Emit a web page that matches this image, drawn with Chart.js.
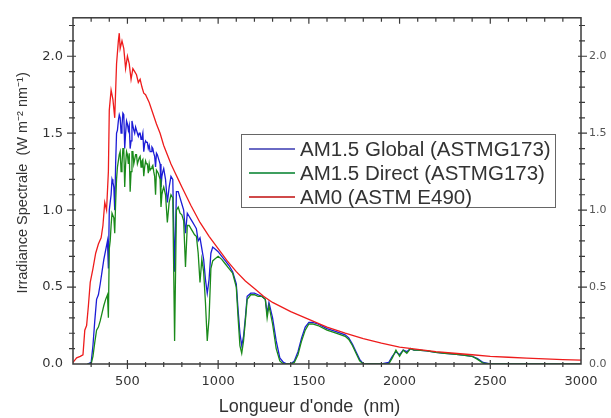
<!DOCTYPE html>
<html>
<head>
<meta charset="utf-8">
<script src="https://cdn.jsdelivr.net/npm/chart.js@4.4.0/dist/chart.umd.min.js"></script>
<style>
  html, body { margin: 0; padding: 0; background: #fff; }
  #wrap { width: 611px; height: 418px; }
</style>
</head>
<body>
<div id="wrap"><canvas id="spectrumChart" width="611" height="418"></canvas></div>
<script>
// Spectre solaire : AM0 et AM1.5 (global / direct)

// wavelengths (nm) for the AM1.5 curves
const wlAM15 = [
    280, 300, 310, 320, 330, 340, 350, 360, 370, 380,
    390, 395, 400, 405, 410, 415, 420, 425, 430, 435,
    440, 445, 450, 455, 460, 465, 470, 475, 480, 485,
    490, 495, 500, 505, 510, 515, 520, 525, 530, 535,
    540, 545, 550, 555, 560, 565, 570, 575, 580, 585,
    590, 595, 600, 605, 610, 615, 620, 625, 630, 635,
    640, 645, 650, 655, 660, 665, 670, 675, 680, 685,
    690, 695, 700, 710, 720, 730, 740, 750, 760, 770,
    780, 790, 800, 810, 820, 830, 840, 850, 860, 870,
    880, 890, 900, 910, 920, 930, 940, 950, 960, 970,
    980, 1000, 1020, 1040, 1060, 1080, 1100, 1110, 1120, 1130,
    1140, 1150, 1160, 1180, 1200, 1220, 1240, 1260, 1270, 1280,
    1300, 1320, 1340, 1360, 1380, 1400, 1420, 1440, 1460, 1480,
    1500, 1520, 1550, 1600, 1650, 1700, 1720, 1740, 1760, 1780,
    1800, 1850, 1900, 1940, 1960, 1980, 2000, 2020, 2040, 2060,
    2080, 2100, 2150, 2200, 2250, 2300, 2350, 2400, 2430, 2460,
    2500, 2600, 2800, 3000
];

// AM1.5 Global (W m-2 nm-1)
const globalAM15 = [
    0, 0.01, 0.12, 0.28, 0.42, 0.45, 0.52, 0.6, 0.68, 0.74,
    0.8, 0.62, 1.0, 1.05, 1.1, 1.2, 1.18, 1.15, 1.0, 1.3,
    1.5, 1.52, 1.58, 1.62, 1.6, 1.5, 1.55, 1.63, 1.62, 1.4,
    1.5, 1.58, 1.56, 1.52, 1.55, 1.4, 1.45, 1.58, 1.55, 1.52,
    1.5, 1.54, 1.52, 1.5, 1.48, 1.5, 1.5, 1.46, 1.47, 1.5,
    1.38, 1.43, 1.45, 1.44, 1.44, 1.4, 1.42, 1.38, 1.38, 1.41,
    1.4, 1.37, 1.35, 1.28, 1.37, 1.36, 1.34, 1.32, 1.3, 1.15,
    1.22, 1.25, 1.27, 1.2, 1.05, 1.15, 1.22, 1.2, 0.6, 1.12,
    1.12, 1.08, 1.04, 1.0, 0.85, 0.98, 0.96, 0.94, 0.92, 0.9,
    0.88, 0.8, 0.82, 0.75, 0.68, 0.55, 0.46, 0.55, 0.72, 0.76,
    0.75, 0.73, 0.7, 0.67, 0.64, 0.6, 0.52, 0.35, 0.2, 0.12,
    0.18, 0.3, 0.44, 0.46, 0.46, 0.45, 0.44, 0.42, 0.33, 0.4,
    0.3, 0.15, 0.04, 0.01, 0, 0, 0.02, 0.08, 0.17, 0.24,
    0.27, 0.27, 0.26, 0.23, 0.21, 0.19, 0.17, 0.13, 0.08, 0.03,
    0, 0, 0, 0.01, 0.05, 0.08, 0.06, 0.09, 0.08, 0.1,
    0.09, 0.09, 0.085, 0.075, 0.07, 0.065, 0.058, 0.05, 0.035, 0.01,
    0, 0, 0, 0
];

// AM1.5 Direct (W m-2 nm-1)
const directAM15 = [
    0, 0, 0.05, 0.14, 0.22, 0.24, 0.28, 0.33, 0.38, 0.42,
    0.45, 0.3, 0.75, 0.8, 0.9, 0.98, 0.98, 0.95, 0.85, 1.05,
    1.2, 1.28, 1.32, 1.36, 1.38, 1.25, 1.3, 1.4, 1.4, 1.15,
    1.3, 1.38, 1.36, 1.3, 1.37, 1.12, 1.25, 1.38, 1.38, 1.3,
    1.33, 1.36, 1.36, 1.3, 1.32, 1.34, 1.35, 1.28, 1.32, 1.33,
    1.22, 1.28, 1.32, 1.3, 1.3, 1.24, 1.3, 1.26, 1.27, 1.28,
    1.29, 1.25, 1.22, 1.1, 1.26, 1.25, 1.24, 1.22, 1.2, 1.02,
    1.1, 1.13, 1.15, 1.1, 0.92, 1.05, 1.1, 1.08, 0.15, 1.0,
    1.02, 0.98, 0.97, 0.93, 0.63, 0.9, 0.9, 0.88, 0.86, 0.84,
    0.83, 0.72, 0.53, 0.68, 0.6, 0.4, 0.15, 0.3, 0.62, 0.67,
    0.68, 0.7, 0.68, 0.65, 0.62, 0.59, 0.5, 0.3, 0.12, 0.07,
    0.15, 0.28, 0.42, 0.45, 0.45, 0.44, 0.44, 0.42, 0.3, 0.38,
    0.26, 0.1, 0.02, 0, 0, 0, 0.01, 0.06, 0.15, 0.22,
    0.26, 0.26, 0.25, 0.22, 0.2, 0.18, 0.16, 0.12, 0.07, 0.02,
    0, 0, 0, 0, 0.04, 0.09, 0.05, 0.09, 0.07, 0.1,
    0.09, 0.09, 0.085, 0.075, 0.07, 0.065, 0.058, 0.05, 0.03, 0.005,
    0, 0, 0, 0
];

// wavelengths (nm) for AM0
const wlAM0 = [
    200, 220, 240, 255, 265, 275, 285, 295, 310, 325,
    340, 355, 365, 375, 385, 395, 400, 410, 420, 430,
    440, 450, 455, 460, 470, 480, 490, 500, 510, 520,
    530, 540, 550, 560, 570, 580, 590, 600, 620, 640,
    660, 680, 700, 720, 740, 760, 780, 800, 850, 900,
    950, 1000, 1050, 1100, 1150, 1200, 1250, 1300, 1400, 1500,
    1600, 1700, 1800, 1900, 2000, 2100, 2200, 2300, 2400, 2500,
    2600, 2700, 2800, 2900, 3000
];

// AM0 ASTM E490 (W m-2 nm-1)
const am0 = [
    0.01, 0.04, 0.05, 0.06, 0.22, 0.25, 0.38, 0.53, 0.62, 0.72,
    0.78, 0.82, 0.9, 1.05, 1.0, 1.25, 1.65, 1.78, 1.72, 1.6,
    1.95, 2.1, 2.15, 2.05, 2.1, 2.05, 1.92, 2.0, 1.95, 1.85,
    1.92, 1.9, 1.88, 1.83, 1.85, 1.8, 1.76, 1.75, 1.7, 1.63,
    1.56, 1.5, 1.42, 1.36, 1.3, 1.25, 1.2, 1.15, 1.03, 0.92,
    0.83, 0.75, 0.67, 0.6, 0.54, 0.49, 0.44, 0.4, 0.34, 0.29,
    0.24, 0.2, 0.165, 0.135, 0.11, 0.095, 0.08, 0.07, 0.06, 0.05,
    0.044, 0.038, 0.033, 0.029, 0.025
];

const seriesNames = ['AM1.5 Global (ASTMG173)', 'AM1.5 Direct (ASTMG173)', 'AM0 (ASTM E490)'];
const seriesColors = ['#1c1cd6', '#1a8a1a', '#ee1c1c'];
const legendColors = ['#6a6ac4', '#3f9f5f', '#d04a4a'];

const xTicksMajor = [500, 1000, 1500, 2000, 2500, 3000];
const yTicksMajor = [0, 0.5, 1.0, 1.5, 2.0];

const axisColor = '#3a3a3a';
const textColor = '#333';
const fontFamily = '"Liberation Sans", Arial, sans-serif';
const tickFamily = '"DejaVu Sans", sans-serif';

function toPoints(xs, ys) {
    return xs.map((x, i) => ({ x: x, y: ys[i] }));
}

// frame, inner/outer tick marks and the boxed legend
const frameAndLegend = {
    id: 'frameAndLegend',
    afterDraw(chart) {
        const ctx = chart.ctx;
        const a = chart.chartArea;
        const x = chart.scales.x;
        const y = chart.scales.y;

        ctx.save();
        ctx.strokeStyle = axisColor;
        ctx.lineWidth = 1.5;
        ctx.strokeRect(a.left, a.top, a.right - a.left, a.bottom - a.top);

        ctx.lineWidth = 1.2;
        ctx.beginPath();
        // x ticks every 100 nm
        for (let v = 300; v <= 2900; v += 100) {
            const px = x.getPixelForValue(v);
            const major = v % 500 === 0;
            ctx.moveTo(px, a.bottom - (major ? 4 : 2));
            ctx.lineTo(px, a.bottom + (major ? 5 : 3));
            ctx.moveTo(px, a.top);
            ctx.lineTo(px, a.top + (major ? 6 : 4));
        }
        // y ticks every 0.1
        for (let i = 1; i <= 22; i++) {
            const v = i / 10;
            const py = y.getPixelForValue(v);
            const major = i % 5 === 0;
            ctx.moveTo(a.left - (major ? 6 : 4), py);
            ctx.lineTo(a.left + (major ? 3 : 2), py);
            ctx.moveTo(a.right - (major ? 3 : 2), py);
            ctx.lineTo(a.right + (major ? 6 : 4), py);
        }
        ctx.stroke();

        // legend box
        const box = { left: 241, top: 134, width: 314, height: 73 };
        ctx.fillStyle = '#fff';
        ctx.fillRect(box.left, box.top, box.width, box.height);
        ctx.strokeStyle = '#666';
        ctx.lineWidth = 1;
        ctx.strokeRect(box.left + 0.5, box.top + 0.5, box.width, box.height);

        ctx.font = '20.5px ' + fontFamily;
        ctx.textBaseline = 'middle';
        ctx.textAlign = 'left';
        chart.data.datasets.forEach((ds, i) => {
            const ly = box.top + 15 + i * 24;
            ctx.strokeStyle = legendColors[i];
            ctx.lineWidth = 2;
            ctx.beginPath();
            ctx.moveTo(box.left + 8, ly);
            ctx.lineTo(box.left + 54, ly);
            ctx.stroke();
            ctx.fillStyle = textColor;
            ctx.fillText(ds.label, box.left + 59, ly + 1);
        });
        ctx.restore();
    }
};

const ctx = document.getElementById('spectrumChart').getContext('2d');

new Chart(ctx, {
    type: 'line',
    data: {
        datasets: [
            {
                label: seriesNames[0],
                data: toPoints(wlAM15, globalAM15),
                borderColor: seriesColors[0],
                order: 2
            },
            {
                label: seriesNames[1],
                data: toPoints(wlAM15, directAM15),
                borderColor: seriesColors[1],
                order: 1
            },
            {
                label: seriesNames[2],
                data: toPoints(wlAM0, am0),
                borderColor: seriesColors[2],
                order: 0
            }
        ]
    },
    options: {
        responsive: false,
        animation: false,
        layout: { padding: { top: 8, left: 0, right: 0, bottom: 0 } },
        elements: {
            line: { borderWidth: 1.3, tension: 0, fill: false },
            point: { radius: 0 }
        },
        plugins: {
            legend: { display: false },
            tooltip: { enabled: false }
        },
        scales: {
            x: {
                type: 'linear',
                position: 'bottom',
                min: 200,
                max: 3000,
                afterFit(scale) { scale.height = 54; },
                afterBuildTicks(scale) {
                    scale.ticks = xTicksMajor.map(v => ({ value: v }));
                },
                grid: { display: false, drawTicks: false },
                border: { display: false },
                ticks: {
                    padding: 10,
                    color: textColor,
                    font: { family: tickFamily, size: 13 },
                    maxRotation: 0,
                    callback: v => String(v)
                },
                title: {
                    display: true,
                    // trailing no-break spaces move the centred title left, as in the original
                    text: "Longueur d'onde  (nm)" + '\u00A0'.repeat(7),
                    color: textColor,
                    font: { family: fontFamily, size: 18 },
                    padding: { top: 0, bottom: 0 }
                }
            },
            y: {
                type: 'linear',
                position: 'left',
                min: 0,
                max: 2.25,
                afterFit(scale) { scale.width = 73; },
                afterBuildTicks(scale) {
                    scale.ticks = yTicksMajor.map(v => ({ value: v }));
                },
                grid: { display: false, drawTicks: false },
                border: { display: false },
                ticks: {
                    padding: 10,
                    color: textColor,
                    font: { family: tickFamily, size: 13 },
                    callback: v => v.toFixed(1)
                },
                title: {
                    display: true,
                    // leading no-break spaces lift the centred title a little
                    text: '\u00A0'.repeat(4) + 'Irradiance Spectrale  (W m\u207B\u00B2 nm\u207B\u00B9)',
                    color: textColor,
                    font: { family: fontFamily, size: 14.5 },
                    padding: { top: 14, bottom: 0 }
                }
            },
            y2: {
                type: 'linear',
                position: 'right',
                min: 0,
                max: 2.25,
                afterFit(scale) { scale.width = 30; },
                afterBuildTicks(scale) {
                    scale.ticks = yTicksMajor.map(v => ({ value: v }));
                },
                grid: { display: false, drawTicks: false },
                border: { display: false },
                ticks: {
                    padding: 8,
                    color: '#555',
                    font: { family: tickFamily, size: 11 },
                    callback: v => v.toFixed(1)
                }
            }
        }
    },
    plugins: [frameAndLegend]
});
</script>
</body>
</html>
